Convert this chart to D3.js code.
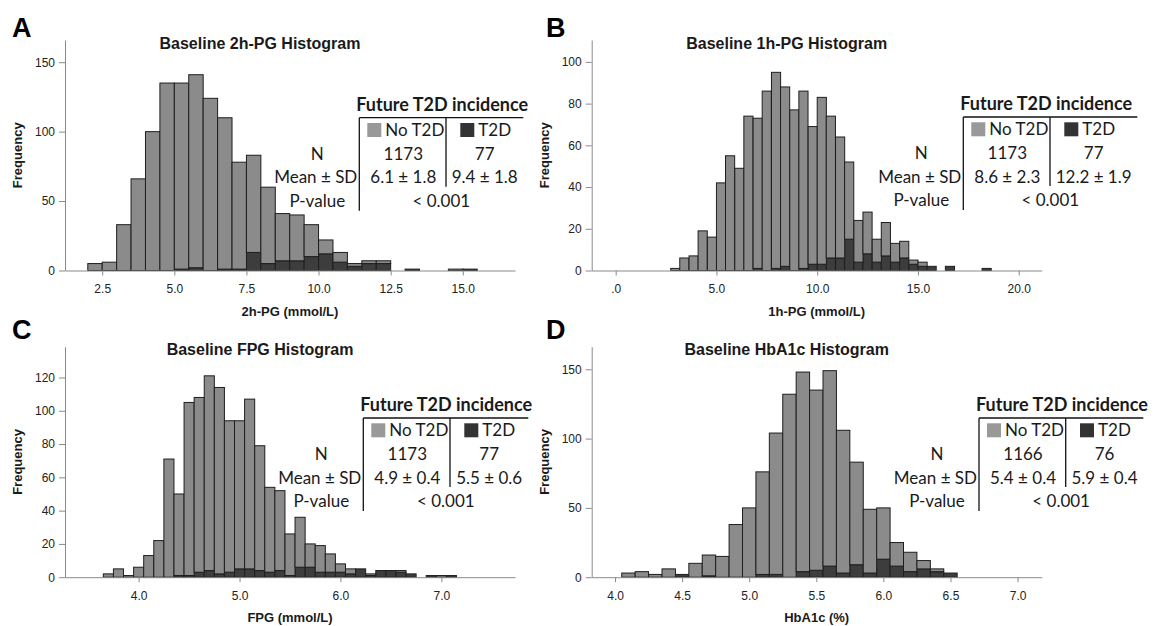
<!DOCTYPE html>
<html>
<head>
<meta charset="utf-8">
<script src="https://cdn.jsdelivr.net/npm/d3@7"></script>
<style>
  body { margin: 0; background: #fff; }
  svg { display: block; }
  .axis text { font-family: "Liberation Sans", Arial, sans-serif; font-size: 12px; fill: #222; }
  .axis path, .axis line { stroke: #8a8a8a; }
  .tbl text { font-family: Lato, "Open Sans", sans-serif; font-size: 17px; fill: #1a1a1a; }
</style>
</head>
<body>
<svg id="chart" width="1162" height="626"></svg>
<script>
// ---- histogram data: lower bin edge + counts per group ----
// A: 2h-PG
const binsA  = [2.0, 2.5, 3.0, 3.5, 4.0, 4.5, 5.0, 5.5, 6.0, 6.5, 7.0, 7.5, 8.0, 8.5, 9.0, 9.5, 10.0, 10.5, 11.0, 11.5, 12.0, 12.5, 13.0, 13.5, 14.0, 14.5, 15.0];
const noT2dA = [5, 6, 33, 66, 100, 135, 134, 139, 124, 109, 77, 70, 55, 34, 33, 23, 10, 7, 2, 2, 2, 0, 0, 0, 0, 1, 0];
const t2dA   = [0, 0, 0, 0, 0, 0, 1, 2, 0, 1, 1, 13, 5, 7, 7, 10, 12, 6, 3, 5, 5, 0, 1, 0, 0, 0, 1];

// B: 1h-PG
const binsB  = [2.73, 3.18, 3.64, 4.09, 4.55, 5.00, 5.45, 5.91, 6.36, 6.82, 7.27, 7.73, 8.18, 8.64, 9.09, 9.55, 10.00, 10.45, 10.91, 11.36, 11.82, 12.27, 12.73, 13.18, 13.64, 14.09, 14.55, 15.00, 15.45, 15.91, 16.36, 16.82, 17.27, 17.73, 18.18];
const noT2dB = [1, 6, 7, 19, 16, 42, 55, 49, 74, 72, 86, 94, 86, 77, 85, 66, 80, 68, 58, 37, 20, 20, 11, 16, 9, 8, 2, 2, 0, 0, 0, 0, 0, 0, 0];
const t2dB   = [0, 0, 0, 0, 0, 0, 0, 0, 0, 1, 0, 1, 2, 0, 1, 3, 3, 6, 6, 15, 4, 8, 4, 7, 4, 6, 3, 2, 2, 0, 2, 0, 0, 0, 1];

// C: FPG
const binsC  = [3.65, 3.75, 3.85, 3.95, 4.05, 4.15, 4.25, 4.35, 4.45, 4.55, 4.65, 4.75, 4.85, 4.95, 5.05, 5.15, 5.25, 5.35, 5.45, 5.55, 5.65, 5.75, 5.85, 5.95, 6.05, 6.15, 6.25, 6.35, 6.45, 6.55, 6.65, 6.75, 6.85, 6.95, 7.05];
const noT2dC = [2, 5, 1, 6, 13, 22, 71, 49, 104, 105, 117, 112, 91, 89, 102, 75, 51, 48, 25, 30, 14, 16, 11, 5, 3, 0, 1, 0, 0, 1, 0, 0, 0, 1, 0];
const t2dC   = [0, 0, 0, 0, 0, 0, 0, 1, 1, 3, 4, 2, 3, 5, 5, 4, 3, 4, 1, 6, 6, 3, 3, 3, 2, 5, 1, 4, 4, 3, 2, 0, 1, 0, 1];

// D: HbA1c
const binsD  = [4.05, 4.15, 4.25, 4.35, 4.45, 4.55, 4.65, 4.75, 4.85, 4.95, 5.05, 5.15, 5.25, 5.35, 5.45, 5.55, 5.65, 5.75, 5.85, 5.95, 6.05, 6.15, 6.25, 6.35, 6.45];
const noT2dD = [3, 4, 2, 6, 0, 10, 15, 15, 38, 50, 74, 102, 132, 144, 130, 141, 103, 74, 46, 37, 17, 14, 6, 2, 0];
const t2dD   = [0, 0, 0, 0, 2, 0, 1, 0, 0, 0, 2, 2, 0, 4, 5, 8, 3, 9, 3, 13, 8, 4, 6, 4, 3];

// ---- ticks ----
const xTicksA = [2.5, 5.0, 7.5, 10.0, 12.5, 15.0];
const xLabelsA = ["2.5", "5.0", "7.5", "10.0", "12.5", "15.0"];
const yTicksA = [0, 50, 100, 150];
const xTicksB = [0, 5, 10, 15, 20];
const xLabelsB = [".0", "5.0", "10.0", "15.0", "20.0"];
const yTicksB = [0, 20, 40, 60, 80, 100];
const xTicksC = [4, 5, 6, 7];
const xLabelsC = ["4.0", "5.0", "6.0", "7.0"];
const yTicksC = [0, 20, 40, 60, 80, 100, 120];
const xTicksD = [4.0, 4.5, 5.0, 5.5, 6.0, 6.5, 7.0];
const xLabelsD = ["4.0", "4.5", "5.0", "5.5", "6.0", "6.5", "7.0"];
const yTicksD = [0, 50, 100, 150];

// ---- tables ----
const groups = ["No T2D", "T2D"];
const rowLabels = ["N", "Mean ± SD", "P-value"];
const nA = ["1173", "77"], meanA = ["6.1 ± 1.8", "9.4 ± 1.8"];
const nB = ["1173", "77"], meanB = ["8.6 ± 2.3", "12.2 ± 1.9"];
const nC = ["1173", "77"], meanC = ["4.9 ± 0.4", "5.5 ± 0.6"];
const nD = ["1166", "76"], meanD = ["5.4 ± 0.4", "5.9 ± 0.4"];
const pValue = "< 0.001";

const plotW = 450, plotH = 230.5;
const lightFill = "#8b8b8b", darkFill = "#3d3d3d";

const svg = d3.select("#chart");

function drawPanel(p) {
    const g = svg.append("g");
    const x = d3.scaleLinear().domain(p.xDomain).range([p.left, p.left + plotW]);
    const y = d3.scaleLinear().domain([0, p.yMax]).range([p.top + plotH, p.top]);

    const rows = p.bins.map((b, i) => ({x0: b, x1: b + p.binW, t2d: p.t2d[i], noT2d: p.noT2d[i]}));
    const series = d3.stack().keys(["t2d", "noT2d"])(rows);

    g.selectAll("g.series")
        .data(series)
        .join("g")
        .attr("class", "series")
        .attr("fill", d => d.key === "t2d" ? darkFill : lightFill)
        .selectAll("rect")
        .data(d => d.filter(s => s[1] > s[0]))
        .join("rect")
        .attr("x", d => x(d.data.x0))
        .attr("width", d => x(d.data.x1) - x(d.data.x0))
        .attr("y", d => y(d[1]))
        .attr("height", d => y(d[0]) - y(d[1]))
        .attr("stroke", "#1e1e1e")
        .attr("stroke-width", 1);

    // axes
    g.append("g")
        .attr("class", "axis")
        .attr("transform", `translate(0,${p.top + plotH})`)
        .call(d3.axisBottom(x).tickValues(p.xTicks).tickFormat((d, i) => p.xLabels[i])
              .tickSize(5).tickPadding(9).tickSizeOuter(0));
    g.append("g")
        .attr("class", "axis")
        .attr("transform", `translate(${p.left},0)`)
        .call(d3.axisLeft(y).tickValues(p.yTicks).tickSize(6).tickPadding(4).tickSizeOuter(0));

    // titles
    g.append("text")
        .attr("x", p.left + 195).attr("y", p.top + 8.5)
        .attr("text-anchor", "middle")
        .style("font", "bold 16px 'Liberation Sans', Arial, sans-serif")
        .attr("fill", "#1a1a1a")
        .text(p.title);
    g.append("text")
        .attr("x", p.left + plotW / 2).attr("y", p.top + plotH + 45)
        .attr("text-anchor", "middle")
        .style("font", "bold 13px 'Liberation Sans', Arial, sans-serif")
        .attr("fill", "#1a1a1a")
        .text(p.xTitle);
    g.append("text")
        .attr("transform", `translate(${p.left - 43},${p.top + plotH / 2}) rotate(-90)`)
        .attr("text-anchor", "middle")
        .style("font", "bold 13px 'Liberation Sans', Arial, sans-serif")
        .attr("fill", "#1a1a1a")
        .text("Frequency");
    g.append("text")
        .attr("x", p.letterX).attr("y", p.letterY)
        .style("font", "bold 27px 'Liberation Sans', Arial, sans-serif")
        .attr("fill", "#000")
        .text(p.letter);

    // summary table
    const t = svg.append("g").attr("class", "tbl");
    const vx = p.tx, hy = p.ty;
    const colEnd = vx + p.tw, split = vx + 86.7;
    t.append("text").attr("x", vx - 3).attr("y", hy)
        .style("font-weight", "bold").style("font-size", "18px").text("Future T2D incidence");
    t.append("line").attr("x1", vx).attr("x2", colEnd).attr("y1", hy + 7).attr("y2", hy + 7)
        .attr("stroke", "#111").attr("stroke-width", 1.3);
    t.append("line").attr("x1", vx).attr("x2", vx).attr("y1", hy + 7).attr("y2", hy + 100)
        .attr("stroke", "#111").attr("stroke-width", 1.3);
    t.append("line").attr("x1", split).attr("x2", split).attr("y1", hy + 7).attr("y2", hy + 76)
        .attr("stroke", "#111").attr("stroke-width", 1.3);

    const r1 = hy + 25.3, r2 = hy + 49.3, r3 = hy + 72.6, r4 = hy + 96;
    // legend row
    t.append("rect").attr("x", vx + 8).attr("y", r1 - 13).attr("width", 14).attr("height", 14).attr("fill", "#999");
    t.append("text").attr("x", vx + 26).attr("y", r1).text(groups[0]);
    t.append("rect").attr("x", vx + 101).attr("y", r1 - 13).attr("width", 14).attr("height", 14).attr("fill", "#333");
    t.append("text").attr("x", vx + 119).attr("y", r1).text(groups[1]);

    const c2 = vx + 44, c3 = (split + colEnd) / 2;
    t.append("text").attr("x", vx - 42).attr("y", r2).attr("text-anchor", "middle").text(rowLabels[0]);
    t.append("text").attr("x", vx - 2).attr("y", r3).attr("text-anchor", "end").text(rowLabels[1]);
    t.append("text").attr("x", vx - 42).attr("y", r4).attr("text-anchor", "middle").text(rowLabels[2]);
    t.append("text").attr("x", c2).attr("y", r2).attr("text-anchor", "middle").text(p.n[0]);
    t.append("text").attr("x", c3).attr("y", r2).attr("text-anchor", "middle").text(p.n[1]);
    t.append("text").attr("x", c2).attr("y", r3).attr("text-anchor", "middle").text(p.mean[0]);
    t.append("text").attr("x", c3).attr("y", r3).attr("text-anchor", "middle").text(p.mean[1]);
    t.append("text").attr("x", (vx + colEnd) / 2).attr("y", r4).attr("text-anchor", "middle").text(pValue);
}

drawPanel({letter: "A", letterX: 12, letterY: 37, left: 65, top: 40,
    title: "Baseline 2h-PG Histogram", xTitle: "2h-PG (mmol/L)",
    xDomain: [1.21, 16.81], yMax: 166, bins: binsA, binW: 0.5, noT2d: noT2dA, t2d: t2dA,
    xTicks: xTicksA, xLabels: xLabelsA, yTicks: yTicksA,
    tx: 359.3, ty: 110.7, tw: 164, n: nA, mean: meanA});

drawPanel({letter: "B", letterX: 546, letterY: 37, left: 591.7, top: 40,
    title: "Baseline 1h-PG Histogram", xTitle: "1h-PG (mmol/L)",
    xDomain: [-1.19, 21.14], yMax: 110.5, bins: binsB, binW: 0.4545, noT2d: noT2dB, t2d: t2dB,
    xTicks: xTicksB, xLabels: xLabelsB, yTicks: yTicksB,
    tx: 963.3, ty: 110, tw: 174, n: nB, mean: meanB});

drawPanel({letter: "C", letterX: 12, letterY: 339, left: 65, top: 346.7,
    title: "Baseline FPG Histogram", xTitle: "FPG (mmol/L)",
    xDomain: [3.27, 7.73], yMax: 138.5, bins: binsC, binW: 0.1, noT2d: noT2dC, t2d: t2dC,
    xTicks: xTicksC, xLabels: xLabelsC, yTicks: yTicksC,
    tx: 363.3, ty: 411, tw: 165, n: nC, mean: meanC});

drawPanel({letter: "D", letterX: 546, letterY: 339, left: 591.7, top: 346.7,
    title: "Baseline HbA1c Histogram", xTitle: "HbA1c (%)",
    xDomain: [3.826, 7.18], yMax: 166.3, bins: binsD, binW: 0.1, noT2d: noT2dD, t2d: t2dD,
    xTicks: xTicksD, xLabels: xLabelsD, yTicks: yTicksD,
    tx: 979, ty: 411, tw: 164.3, n: nD, mean: meanD});
</script>
</body>
</html>
